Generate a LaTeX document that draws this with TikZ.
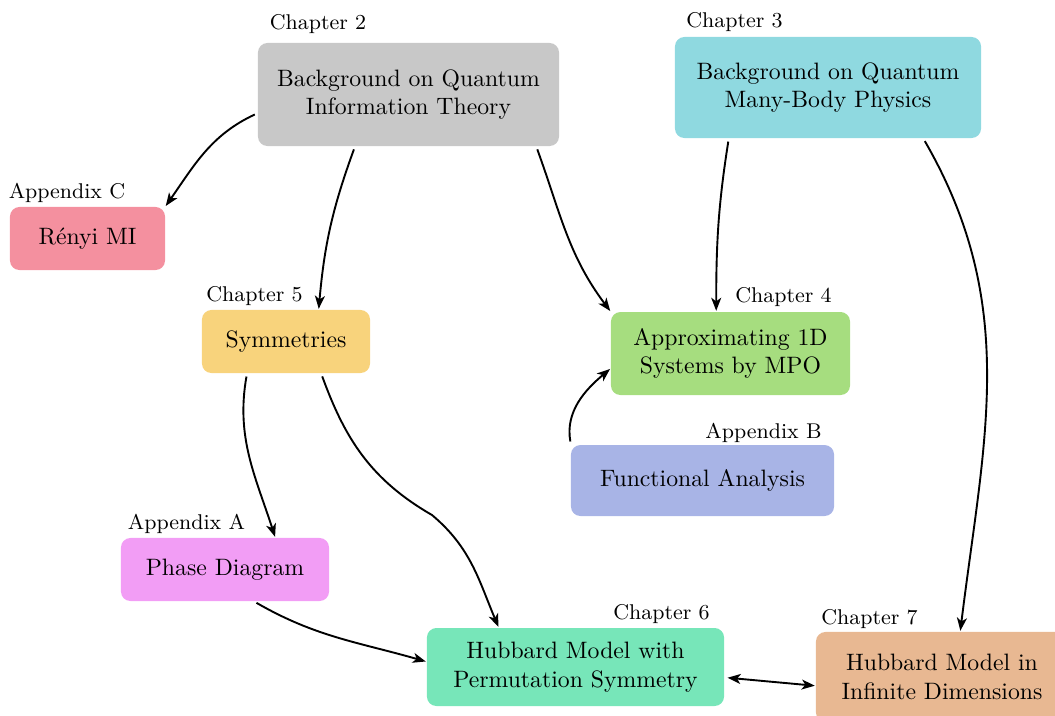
\documentclass[tikz,border=0pt]{standalone}
\usetikzlibrary{arrows.meta}
\definecolor{qitgray}{HTML}{C8C8C8}
\definecolor{mbpcyan}{HTML}{8FD9E0}
\definecolor{renyipink}{HTML}{F4909F}
\definecolor{symyellow}{HTML}{F8D37C}
\definecolor{mpogreen}{HTML}{A6DD7F}
\definecolor{funcblue}{HTML}{A8B4E6}
\definecolor{phaseviolet}{HTML}{F29DF5}
\definecolor{permteal}{HTML}{77E6B9}
\definecolor{infdimorange}{HTML}{E8B892}
\begin{document}
\begin{tikzpicture}[x=0.01482cm, y=0.01482cm,
    box/.style={rounded corners=4pt, align=center, outer sep=0pt},
    link/.style={thick, shorten <=1.5pt, shorten >=0.5pt},
    >={Stealth[length=5.5pt, width=4.2pt, inset=1.5pt]}]
    \useasboundingbox (0,0) rectangle (1055,-715);
    % boxes
    \node[box, fill=qitgray, minimum width=4.46cm, minimum height=1.527cm] (qit) at (408.5,-94.5) {Background on Quantum\\Information Theory};
    \node[box, fill=mbpcyan, minimum width=4.535cm, minimum height=1.497cm] (mbp) at (828,-87.5) {Background on Quantum\\Many-Body Physics};
    \node[box, fill=renyipink, minimum width=2.297cm, minimum height=0.934cm] (renyi) at (87.5,-238.5) {R\'enyi MI};
    \node[box, fill=symyellow, minimum width=2.49cm, minimum height=0.934cm] (sym) at (286,-341.5) {Symmetries};
    \node[box, fill=mpogreen, minimum width=3.542cm, minimum height=1.23cm] (mpo) at (730.5,-353.5) {Approximating 1D\\Systems by MPO};
    \node[box, fill=funcblue, minimum width=3.898cm, minimum height=1.052cm] (funcan) at (702.5,-480.5) {Functional Analysis};
    \node[box, fill=phaseviolet, minimum width=3.083cm, minimum height=0.934cm] (phase) at (225,-569.5) {Phase Diagram};
    \node[box, fill=permteal, minimum width=4.402cm, minimum height=1.156cm] (perm) at (575.5,-667) {Hubbard Model with\\Permutation Symmetry};
    \node[box, fill=infdimorange, minimum width=3.735cm, minimum height=1.334cm] (infdim) at (942,-677) {Hubbard Model in\\Infinite Dimensions};
    % labels
    \node (qitlbl) at (318,-24.5) {\small Chapter 2};
    \node (mbplbl) at (734.5,-22) {\small Chapter 3};
    \node (renyilbl) at (67,-193) {\small Appendix C};
    \node (symlbl) at (254.5,-296) {\small Chapter 5};
    \node (mpolbl) at (783.5,-297) {\small Chapter 4};
    \node (funcanlbl) at (763.5,-433) {\small Appendix B};
    \node (phaselbl) at (186.5,-524) {\small Appendix A};
    \node (permlbl) at (661.5,-614) {\small Chapter 6};
    \node (infdimlbl) at (869.5,-619) {\small Chapter 7};
    % arrows
    \coordinate (permbend) at (432,-515);
    \draw[->, link] (qit.187) to[out=205, in=55] (renyi.north east);
    \draw[->, link] (qit.224) to[out=250, in=85] (sym.44);
    \draw[->, link] (qit.338) to[out=290, in=127] (mpo.north west);
    \draw[->, link] (mbp.207) to[out=261, in=90] (mpo.109);
    \draw[->, link] (mbp.332) to[out=300, in=83] (infdim.68);
    \draw[->, link] (funcan.north west) to[out=100, in=220] (mpo.187);
    \draw[->, link] (sym.219) to[out=260, in=108] (phase.32);
    \draw[->, link] (sym.318) to[out=290, in=150] (permbend) to[out=320, in=113] (perm.153);
    \draw[->, link] (phase.312) to[out=330, in=164] (perm.178);
    \draw[<->, link] (perm.356) -- (infdim.184);
\end{tikzpicture}
\end{document}
